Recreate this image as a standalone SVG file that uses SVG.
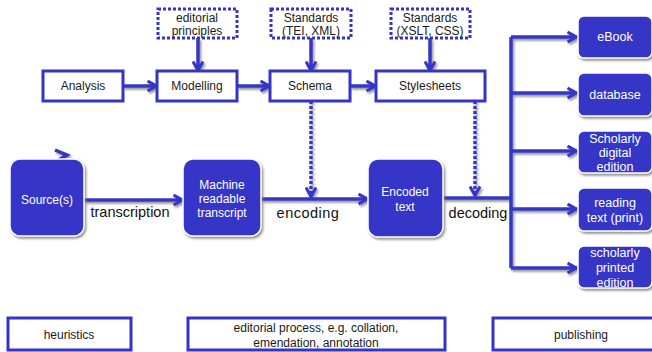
<svg xmlns="http://www.w3.org/2000/svg" width="652" height="352" viewBox="0 0 652 352">
  <style>
    text { font-family: "Liberation Sans", Arial, sans-serif; text-anchor: middle; dominant-baseline: central; }
    .box { fill: #ffffff; stroke: #3434c8; stroke-width: 3; }
    .dbox { fill: #ffffff; stroke: #3434c8; stroke-width: 3; stroke-dasharray: 3 2; }
    .fbox { fill: #3434c8; stroke: #ffffff; stroke-width: 1.5; filter: url(#sh); }
    .lbl { font-size: 12px; fill: #1a1a1a; }
    .wl { font-size: 12px; fill: #ffffff; }
    .wr { font-size: 12.5px; fill: #ffffff; }
    .cl { font-size: 14.5px; fill: #111111; }
    .line { fill: none; stroke: #3434c8; stroke-width: 3.5; }
    .dline { fill: none; stroke: #3434c8; stroke-width: 3.5; stroke-dasharray: 3 2; }
  </style>
  <defs>
    <filter id="sh" x="-10%" y="-10%" width="130%" height="130%">
      <feDropShadow dx="1.5" dy="2" stdDeviation="0.8" flood-color="#777777" flood-opacity="0.8"/>
    </filter>
    <marker id="ah" viewBox="0 0 12 12" refX="10.5" refY="6" markerWidth="12" markerHeight="12" markerUnits="userSpaceOnUse" orient="auto">
      <path d="M1,1 L10,6 L1,11" fill="none" stroke="#3434c8" stroke-width="3"/>
    </marker>
  </defs>

  <g id="connectors" filter="url(#sh)">
    <path class="line" d="M123,86 L157,86" marker-end="url(#ah)"/>
    <path class="line" d="M237,86 L270,86" marker-end="url(#ah)"/>
    <path class="line" d="M350,86 L376,86" marker-end="url(#ah)"/>
    <path class="line" d="M198,38 L198,71" marker-end="url(#ah)"/>
    <path class="line" d="M311,38 L311,71" marker-end="url(#ah)"/>
    <path class="line" d="M430,38 L430,71" marker-end="url(#ah)"/>
    <path class="dline" d="M311,101 L311,197" marker-end="url(#ah)"/>
    <path class="dline" d="M475,101 L475,196" marker-end="url(#ah)"/>
    <path class="line" d="M84,200 L183,200" marker-end="url(#ah)"/>
    <path class="line" d="M261,199 L368,199" marker-end="url(#ah)"/>
    <path class="line" d="M443,198 L511,198"/>
    <path class="line" d="M511,37 L511,268"/>
    <path class="line" d="M511,37 L577,37" marker-end="url(#ah)"/>
    <path class="line" d="M511,93 L577,93" marker-end="url(#ah)"/>
    <path class="line" d="M511,151 L577,151" marker-end="url(#ah)"/>
    <path class="line" d="M511,209 L577,209" marker-end="url(#ah)"/>
    <path class="line" d="M511,268 L577,268" marker-end="url(#ah)"/>
    <path class="line" d="M55,150 L67,155 L57,161"/>
  </g>

  <g id="analysis"><rect class="box" x="43" y="71" width="80" height="30"/><text class="lbl" x="83" y="86">Analysis</text></g>
  <g id="modelling"><rect class="box" x="157" y="71" width="80" height="30"/><text class="lbl" x="197" y="86">Modelling</text></g>
  <g id="schema"><rect class="box" x="270" y="71" width="80" height="30"/><text class="lbl" x="310" y="86">Schema</text></g>
  <g id="stylesheets"><rect class="box" x="376" y="71" width="109" height="30"/><text class="lbl" x="430" y="86">Stylesheets</text></g>

  <g id="editorial-principles"><rect class="dbox" x="158" y="9" width="79" height="29"/><text class="lbl" x="197" y="18">editorial</text><text class="lbl" x="197" y="31">principles</text></g>
  <g id="standards-tei"><rect class="dbox" x="271" y="9" width="80" height="29"/><text class="lbl" x="311" y="18">Standards</text><text class="lbl" x="311" y="31">(TEI, XML)</text></g>
  <g id="standards-xslt"><rect class="dbox" x="391" y="9" width="79" height="29"/><text class="lbl" x="430" y="18">Standards</text><text class="lbl" x="430" y="31">(XSLT, CSS)</text></g>

  <g id="sources"><rect class="fbox" x="10" y="159" width="74" height="77" rx="10"/><text class="wl" x="47" y="200">Source(s)</text></g>
  <g id="transcript"><rect class="fbox" x="183" y="159" width="78" height="77" rx="10"/><text class="wl" x="222" y="185">Machine</text><text class="wl" x="222" y="199">readable</text><text class="wl" x="222" y="213">transcript</text></g>
  <g id="encoded"><rect class="fbox" x="368" y="159" width="75" height="78" rx="10"/><text class="wl" x="405" y="192">Encoded</text><text class="wl" x="405" y="207">text</text></g>

  <g id="ebook"><rect class="fbox" x="578" y="16" width="74" height="42" rx="6"/><text class="wr" x="615" y="37">eBook</text></g>
  <g id="database"><rect class="fbox" x="578" y="73" width="74" height="43" rx="6"/><text class="wr" x="615" y="95">database</text></g>
  <g id="scholarly-digital"><rect class="fbox" x="578" y="131" width="74" height="42" rx="6"/><text class="wr" x="615" y="139">Scholarly</text><text class="wr" x="615" y="153">digital</text><text class="wr" x="615" y="167">edition</text></g>
  <g id="reading-text"><rect class="fbox" x="578" y="188" width="74" height="43" rx="6"/><text class="wr" x="615" y="203">reading</text><text class="wr" x="615" y="218">text (print)</text></g>
  <g id="scholarly-printed"><rect class="fbox" x="578" y="246" width="74" height="42" rx="6"/><text class="wr" x="615" y="253">scholarly</text><text class="wr" x="615" y="268">printed</text><text class="wr" x="615" y="283">edition</text></g>

  <g id="connector-labels">
    <text class="cl" x="130" y="212">transcription</text>
    <text class="cl" x="308" y="213" letter-spacing="0.5">encoding</text>
    <text class="cl" x="478" y="213">decoding</text>
  </g>

  <g id="heuristics"><rect class="box" x="8" y="318" width="123" height="32"/><text class="lbl" x="69" y="335">heuristics</text></g>
  <g id="editorial-process"><rect class="box" x="188" y="318" width="257" height="32"/><text class="lbl" x="316" y="328">editorial process, e.g. collation,</text><text class="lbl" x="316" y="343">emendation, annotation</text></g>
  <g id="publishing"><rect class="box" x="493" y="318" width="176" height="32"/><text class="lbl" x="581" y="335">publishing</text></g>
</svg>
